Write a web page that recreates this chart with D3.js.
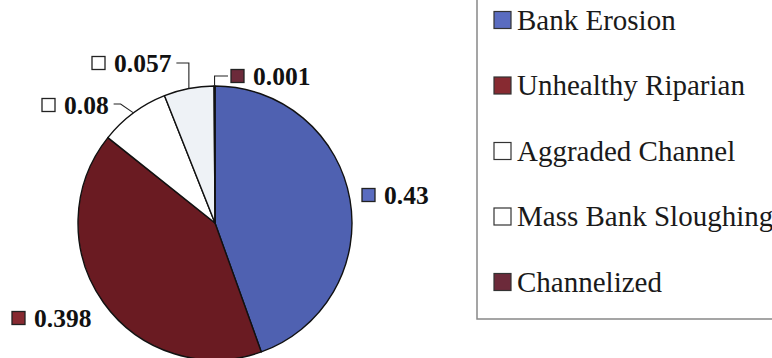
<!DOCTYPE html>
<html>
<head>
<meta charset="utf-8">
<script src="https://cdn.jsdelivr.net/npm/d3@7"></script>
<style>
  html, body { margin: 0; padding: 0; background: #fff; }
  svg { display: block; }
</style>
</head>
<body>
<svg id="chart" width="772" height="358"></svg>
<script>
// Stream problem shares
const categories = ["Bank Erosion", "Unhealthy Riparian", "Aggraded Channel", "Mass Bank Sloughing", "Channelized"];
const values = [0.43, 0.398, 0.08, 0.057, 0.001];
const labels = ["0.43", "0.398", "0.08", "0.057", "0.001"];

// Fills for slices and legend keys
const sliceColors = ["#4f61b1", "#6a1b22", "#ffffff", "#eef2f6", "#5b1a24"];
const keyColors = ["#5a6cc0", "#872a31", "#ffffff", "#ffffff", "#6c2a3a"];

const svg = d3.select("#chart");
const W = 772, H = 358;
const cx = 215, cy = 223, R = 137;

const pie = d3.pie().sort(null).value(d => d).startAngle(0).endAngle(2 * Math.PI);
const arcs = pie(values);
const arc = d3.arc().innerRadius(0).outerRadius(R);

const g = svg.append("g").attr("transform", `translate(${cx},${cy})`);
g.selectAll("path.slice")
  .data(arcs)
  .join("path")
  .attr("class", "slice")
  .attr("d", arc)
  .attr("fill", (d, i) => sliceColors[i])
  .attr("stroke", "#111")
  .attr("stroke-width", 1.4)
  .attr("stroke-linejoin", "round");

// Point on the rim at the middle of a slice (page coordinates)
function rimPoint(d, r) {
  const a = (d.startAngle + d.endAngle) / 2;
  return [cx + r * Math.sin(a), cy - r * Math.cos(a)];
}

// Label placement: left edge of the key box and vertical centre
const labelLayout = [
  { x: 362, y: 195, leader: null },
  { x: 12, y: 318, leader: null },
  { x: 42, y: 105, leader: "diag" },
  { x: 92, y: 63, leader: "elbow" },
  { x: 231, y: 76, leader: "elbowLeft" }
];

const box = 13;
const labelFont = "'Liberation Serif', 'Times New Roman', serif";

arcs.forEach((d, i) => {
  const L = labelLayout[i];
  const lg = svg.append("g");
  lg.append("rect")
    .attr("x", L.x).attr("y", L.y - box / 2)
    .attr("width", box).attr("height", box)
    .attr("fill", keyColors[i])
    .attr("stroke", "#222").attr("stroke-width", 1.3);
  const t = lg.append("text")
    .attr("x", L.x + box + 9).attr("y", L.y + 8.5)
    .attr("font-family", labelFont)
    .attr("font-weight", "bold")
    .attr("font-size", 25.5)
    .attr("fill", "#111")
    .text(labels[i]);
  const textEnd = L.x + box + 9 + t.node().getComputedTextLength();
  const rim = rimPoint(d, R);
  let pts = null;
  if (L.leader === "elbow") {
    pts = [[textEnd + 5, L.y], [rim[0], L.y], rim];
  } else if (L.leader === "elbowLeft") {
    pts = [[L.x - 3, L.y], [rim[0], L.y], rim];
  } else if (L.leader === "diag") {
    pts = [[textEnd + 5, L.y - 1], [textEnd + 12, L.y - 1], rim];
  }
  if (pts) {
    svg.append("path")
      .attr("d", d3.line()(pts))
      .attr("fill", "none")
      .attr("stroke", "#222")
      .attr("stroke-width", 1.1);
  }
});

// Legend frame (left and bottom edges visible)
const lx = 477, lb = 319;
svg.append("path")
  .attr("d", `M${lx},0 V${lb} H${W}`)
  .attr("fill", "none")
  .attr("stroke", "#888")
  .attr("stroke-width", 1.5);

const rowY = d3.scalePoint().domain(categories).range([20, 282]);
const leg = svg.append("g");
categories.forEach((c, i) => {
  const y = rowY(c);
  leg.append("rect")
    .attr("x", 494).attr("y", y - 8.5)
    .attr("width", 17).attr("height", 17)
    .attr("fill", keyColors[i])
    .attr("stroke", "#333").attr("stroke-width", 1.2);
  leg.append("text")
    .attr("x", 517).attr("y", y + 9.5)
    .attr("font-family", labelFont)
    .attr("font-size", 29)
    .attr("fill", "#1a1a1a")
    .text(c);
});
</script>
</body>
</html>
